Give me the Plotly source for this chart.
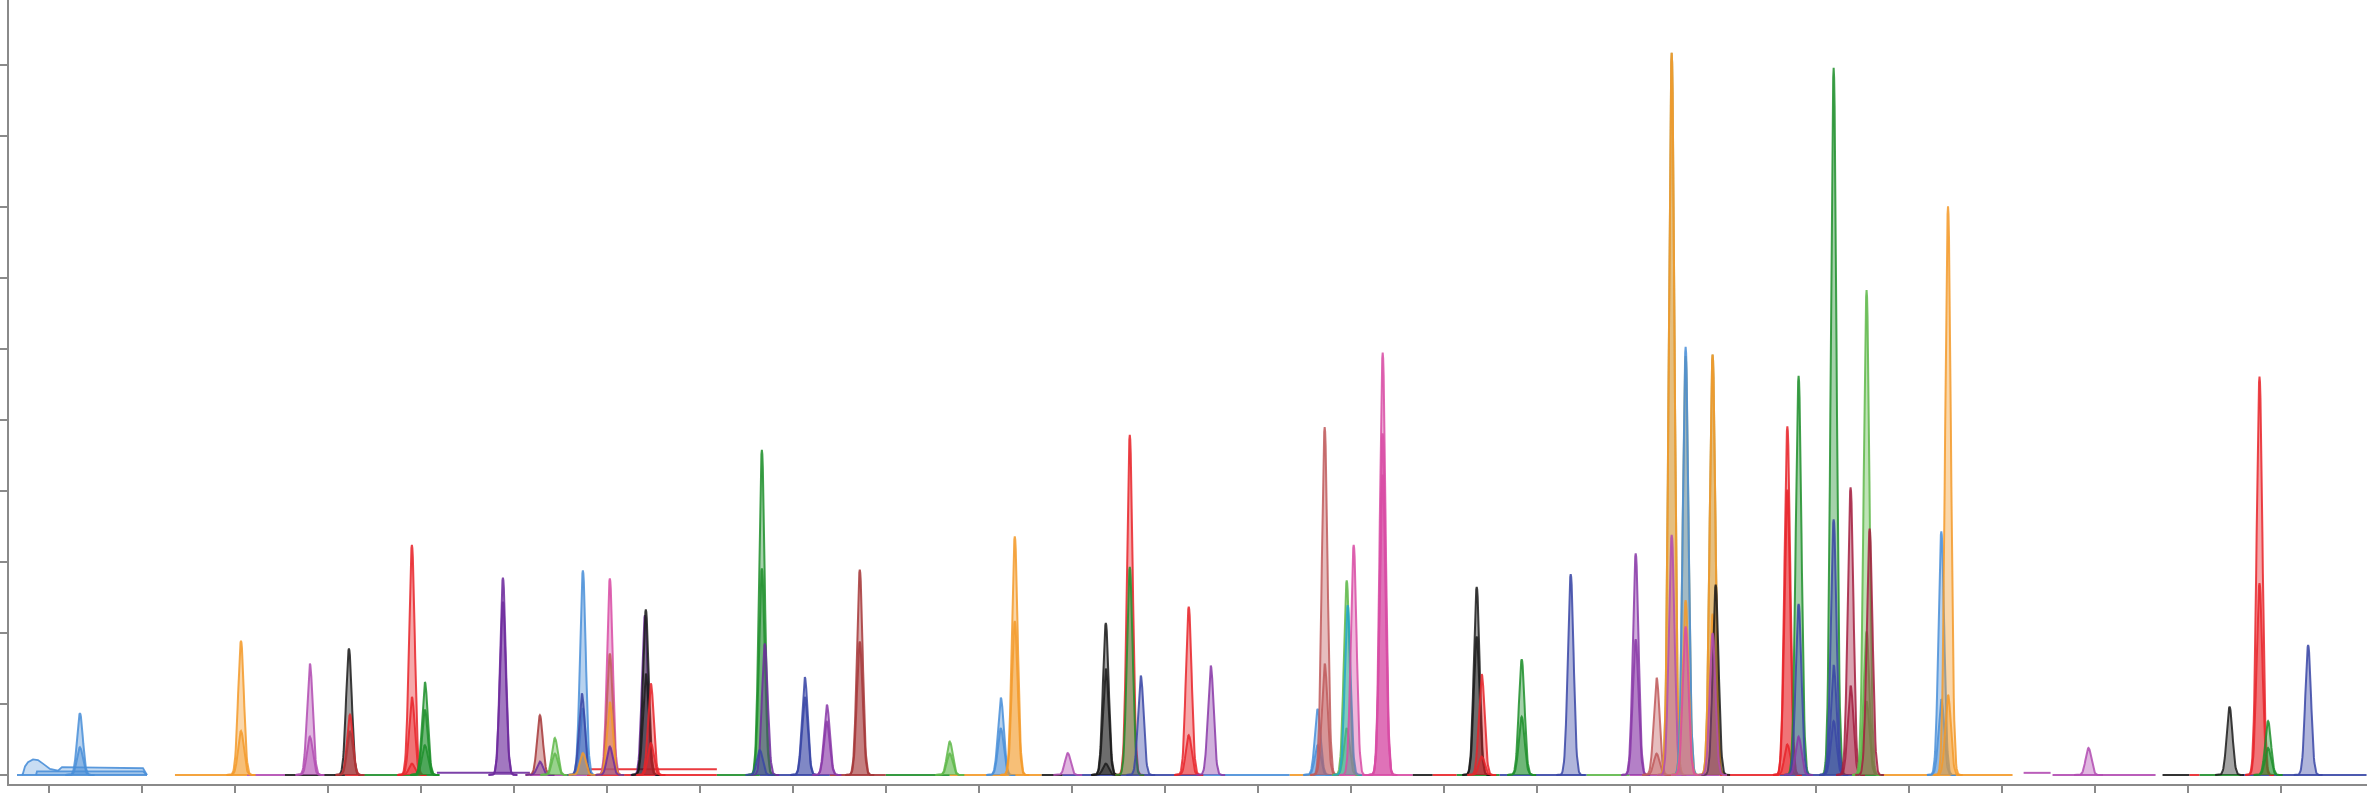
import numpy as np
import plotly.graph_objects as go

COL = dict(
    lblue="#4a8fd8", orange="#f39a2a", magenta="#b24cb2", black="#1c1c1c",
    red="#e8252a", green="#1f8f2c", dpurple="#6e2c9e", purple="#8a3aa8",
    brown="#a6383a", lgreen="#5fb84a", pink="#d84ca4", dblue="#3947a6",
    crimson="#a31f40", cyan="#21a7c6", rose="#c05a5c", olive="#a89a4a",
)

# retention time (min), trace colour, apex heights of the overlaid runs
peak_rt = [0.333, 2.065, 2.806, 3.226, 3.237, 3.237, 3.903, 4.043, 4.882,
           5.280, 5.280, 5.441, 5.742, 5.731, 5.742, 6.032, 6.032, 6.032,
           6.032, 6.409, 6.419, 6.473, 7.667, 7.699, 7.645, 8.129, 8.366,
           8.720, 9.688, 10.237, 10.387, 10.957, 11.366, 11.624, 11.624,
           11.742, 12.258, 12.495, 13.645, 13.720, 13.957, 13.968, 14.032,
           14.344, 15.355, 15.409, 15.839, 16.366, 17.065, 17.290, 17.452,
           17.452, 17.452, 17.602, 17.602, 17.602, 17.602, 17.892, 17.892,
           17.925, 17.892, 18.696, 18.817, 18.817, 18.817, 19.194, 19.194,
           19.376, 19.548, 19.581, 20.352, 20.424, 21.935, 23.452, 23.774,
           23.866, 24.297]
peak_col = ["lblue", "orange", "magenta", "black", "red", "brown", "red",
            "green", "dpurple", "brown", "dpurple", "lgreen", "lblue", "dblue",
            "orange", "pink", "rose", "orange", "dpurple", "dpurple", "black",
            "red", "green", "dpurple", "dblue", "dblue", "purple", "brown",
            "lgreen", "lblue", "orange", "magenta", "black", "red", "green",
            "dblue", "red", "purple", "lblue", "rose", "lgreen", "cyan", "pink",
            "pink", "black", "red", "green", "dblue", "purple", "rose", "olive",
            "orange", "magenta", "olive", "lblue", "orange", "pink", "olive",
            "orange", "black", "magenta", "red", "green", "dblue", "purple",
            "green", "dblue", "crimson", "lgreen", "crimson", "lblue", "orange",
            "magenta", "black", "red", "green", "dblue"]
peak_h = [[0.87, 0.39], [1.89, 0.62], [1.57, 0.54], [1.78], [0.85], [0.61],
          [3.24, 1.10, 0.16], [1.31, 0.92, 0.42], [2.78, 2.44], [0.84], [0.19],
          [0.52, 0.30], [2.88, 0.94], [1.15], [0.31], [2.77], [1.71], [1.03],
          [0.40], [2.25], [2.33, 1.43], [1.29, 0.45], [4.58, 2.91], [1.85],
          [0.35], [1.38, 1.10], [0.99, 0.75], [2.89, 1.88], [0.47, 0.30],
          [1.09, 0.66], [3.36, 2.17], [0.31], [2.14, 1.50, 0.16], [4.79],
          [2.93], [1.40], [2.37, 0.56], [1.54], [0.93, 0.42], [4.90, 1.57],
          [2.74, 0.66], [2.39], [3.24], [5.95, 4.81, 4.23], [2.65, 1.95],
          [1.42, 0.26], [1.63, 0.82], [2.83], [3.12, 1.91], [1.37, 0.30],
          [10.17], [10.17], [3.38], [5.90], [6.03], [2.46], [2.09], [5.92],
          [5.92, 2.27], [2.68], [2.00], [4.91, 4.02, 0.43], [5.62], [2.41],
          [0.54], [9.96], [3.60, 1.55, 0.76], [4.05, 1.26], [6.83, 2.02, 1.04],
          [3.47], [3.43, 1.07], [8.01, 1.13], [0.38], [0.96], [5.61, 2.70],
          [0.76, 0.38], [1.83]]
PEAK_SD = 0.031

# solvent front of the first run
front_rt = [-0.290, -0.280, -0.258, -0.226, -0.172, -0.118, -0.065, 0.011,
            0.097, 0.140, 0.548, 1.011, 1.054]
front_y = [0, 0.02, 0.12, 0.18, 0.22, 0.21, 0.16, 0.085, 0.06, 0.11, 0.105,
           0.095, 0]
front2_rt = [-0.140, -0.129, 1.011, 1.054]
front2_y = [0, 0.05, 0.05, 0]

# baseline pieces of each run
seg_col = ["lblue", "orange", "magenta", "black", "red", "green", "dpurple",
           "magenta", "red", "red", "green", "dblue", "brown", "green",
           "orange", "black", "dblue", "lblue", "orange", "lblue", "pink",
           "black", "red", "green", "dblue", "lgreen", "magenta", "red",
           "dblue", "green", "orange", "magenta", "magenta", "black", "red",
           "green", "dblue"]
seg_start = [-0.344, 1.355, 2.129, 2.538, 3.183, 3.366, 4.172, 5.172, 5.785,
             5.785, 7.183, 7.645, 8.398, 9.0, 9.688, 10.677, 10.903, 12.376,
             13.344, 13.591, 13.882, 14.667, 14.882, 15.140, 15.602, 16.538,
             17.0, 17.968, 18.613, 19.473, 19.731, 21.237, 21.548, 22.731,
             23.022, 23.129, 23.581]
seg_end = [1.054, 2.129, 2.538, 3.183, 3.366, 4.172, 5.172, 5.785, 7.183,
           7.183, 7.645, 8.398, 9.0, 9.688, 10.677, 10.903, 12.376, 13.344,
           13.591, 13.882, 14.667, 14.882, 15.140, 15.602, 16.538, 17.0,
           17.968, 18.613, 19.473, 19.731, 21.118, 21.527, 22.656, 23.022,
           23.129, 23.581, 24.925]
seg_level = [0, 0, 0, 0, 0, 0, 0.03, 0, 0, 0.08, 0, 0, 0, 0, 0, 0, 0, 0, 0,
             0, 0, 0, 0, 0, 0, 0, 0, 0, 0, 0, 0, 0.03, 0, 0, 0, 0, 0]


def rgba(hex_col, a):
    h = hex_col.lstrip("#")
    r, g, b = int(h[0:2], 16), int(h[2:4], 16), int(h[4:6], 16)
    return f"rgba({r},{g},{b},{a})"


fig = go.Figure()

for c, x0, x1, lv in zip(seg_col, seg_start, seg_end, seg_level):
    fig.add_trace(go.Scatter(
        x=[x0, x1], y=[lv, lv], mode="lines",
        line=dict(color=rgba(COL[c], 0.9), width=2),
        hoverinfo="skip", showlegend=False,
    ))

for xs, ys in [(front_rt, front_y), (front2_rt, front2_y)]:
    fig.add_trace(go.Scatter(
        x=xs, y=ys, mode="lines", fill="tozeroy",
        fillcolor=rgba(COL["lblue"], 0.3),
        line=dict(color=rgba(COL["lblue"], 0.9), width=1.8),
        hoverinfo="skip", showlegend=False,
    ))

for rt, c, hs in zip(peak_rt, peak_col, peak_h):
    xs = np.linspace(rt - 5 * PEAK_SD, rt + 5 * PEAK_SD, 61)
    shape = np.exp(-0.5 * ((xs - rt) / PEAK_SD) ** 2)
    for h in hs:
        fig.add_trace(go.Scatter(
            x=xs, y=h * shape, mode="lines", fill="tozeroy",
            fillcolor=rgba(COL[c], 0.4),
            line=dict(color=rgba(COL[c], 0.85), width=2),
            hoverinfo="skip", showlegend=False,
        ))

axis_style = dict(
    showline=True, linecolor="#8a8a8a", linewidth=2,
    ticks="outside", ticklen=7, tickwidth=2, tickcolor="#8a8a8a",
    showticklabels=False, showgrid=False, zeroline=False,
)

fig.update_layout(
    width=2374, height=797,
    plot_bgcolor="white", paper_bgcolor="white",
    margin=dict(l=9, r=7, t=0, b=13),
    xaxis=dict(range=[-0.43, 24.93], tickmode="linear", tick0=0, dtick=1,
               **axis_style),
    yaxis=dict(range=[-0.127, 10.915], tickmode="linear", tick0=0, dtick=1,
               **axis_style),
)

fig.write_html("out.html", config={"displayModeBar": False},
               post_script="document.body.style.margin = '0';")
